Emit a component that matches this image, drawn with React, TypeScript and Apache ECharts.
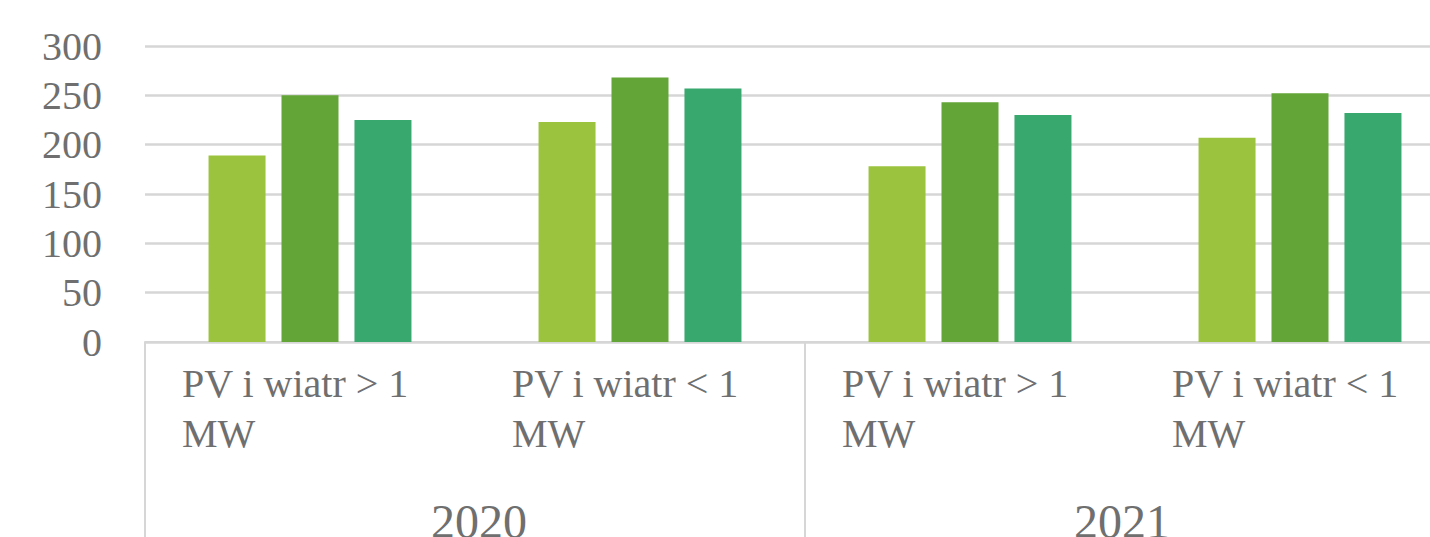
import React, { useEffect, useRef } from "react";
import * as echarts from "echarts";

const categories = ["PV i wiatr > 1\nMW", "PV i wiatr < 1\nMW", "PV i wiatr > 1\nMW", "PV i wiatr < 1\nMW"];
const years = ["2020", "2021"];
const yTicks = [0, 50, 100, 150, 200, 250, 300];
const seriesA = [189, 223, 178, 207];
const seriesB = [250, 268, 243, 252];
const seriesC = [225, 257, 230, 232];
const colors = ["#9BC33D", "#63A537", "#38A86E"];

const FONT = "Liberation Serif";
const TEXT = "#6f6f6f";
const LINE = "#d6d6d6";

export default function App() {
  const ref = useRef<HTMLDivElement>(null);
  useEffect(() => {
    if (!ref.current) return;
    const chart = echarts.init(ref.current, undefined, { renderer: "svg" });
    const yearStyle = { fontFamily: FONT, fontSize: 48, color: TEXT };
    chart.setOption({
      animation: false,
      backgroundColor: "#ffffff",
      textStyle: { fontFamily: FONT },
      grid: {
        left: 145,
        width: 1320,
        top: 46,
        bottom: 195,
        containLabel: false,
        outerBoundsMode: "none",
      },
      xAxis: [
        {
          type: "category",
          data: categories,
          position: "bottom",
          axisLine: { show: true, lineStyle: { color: LINE, width: 2 } },
          axisTick: { show: false },
          axisLabel: {
            interval: 0,
            margin: 16,
            align: "center",
            formatter: (v: string) =>
              v
                .split("\n")
                .map((s) => "{a|" + s + "}")
                .join("\n"),
            rich: {
              a: {
                fontFamily: FONT,
                fontSize: 40,
                color: TEXT,
                lineHeight: 50,
                width: 256,
                align: "left",
              },
            },
          },
        },
        {
          type: "category",
          data: years,
          position: "bottom",
          axisLine: { show: false },
          axisTick: { show: true, interval: 0, length: 200, lineStyle: { color: LINE, width: 2 } },
          axisLabel: {
            interval: 0,
            margin: 155,
            fontFamily: FONT,
            fontSize: 48,
            color: TEXT,
            formatter: (v: string, i: number) => (i === 0 ? "{y0|" + v + "}" : "{y1|" + v + "}"),
            rich: {
              y0: { ...yearStyle, padding: [0, 0, 0, 8] },
              y1: { ...yearStyle, padding: [0, 26, 0, 0] },
            },
          },
          splitLine: { show: false },
        },
      ],
      yAxis: {
        type: "value",
        min: 0,
        max: 300,
        interval: 50,
        axisLine: { show: false },
        axisTick: { show: false },
        splitLine: { show: true, lineStyle: { color: LINE, width: 2.5 } },
        axisLabel: {
          margin: 43,
          fontFamily: FONT,
          fontSize: 40,
          color: TEXT,
          formatter: (v: number) => (yTicks.includes(v) ? String(v) : ""),
        },
      },
      series: [seriesA, seriesB, seriesC].map((d, i) => ({
        type: "bar",
        xAxisIndex: 0,
        data: d,
        barWidth: 57,
        barGap: "28%",
        itemStyle: { color: colors[i] },
      })),
    });
    return () => chart.dispose();
  }, []);
  return (
    <div
      style={{ position: "absolute", left: 0, top: 0, width: 1430, height: 537, overflow: "hidden" }}
    >
      <div ref={ref} style={{ width: 1430, height: 537 }} />
    </div>
  );
}
